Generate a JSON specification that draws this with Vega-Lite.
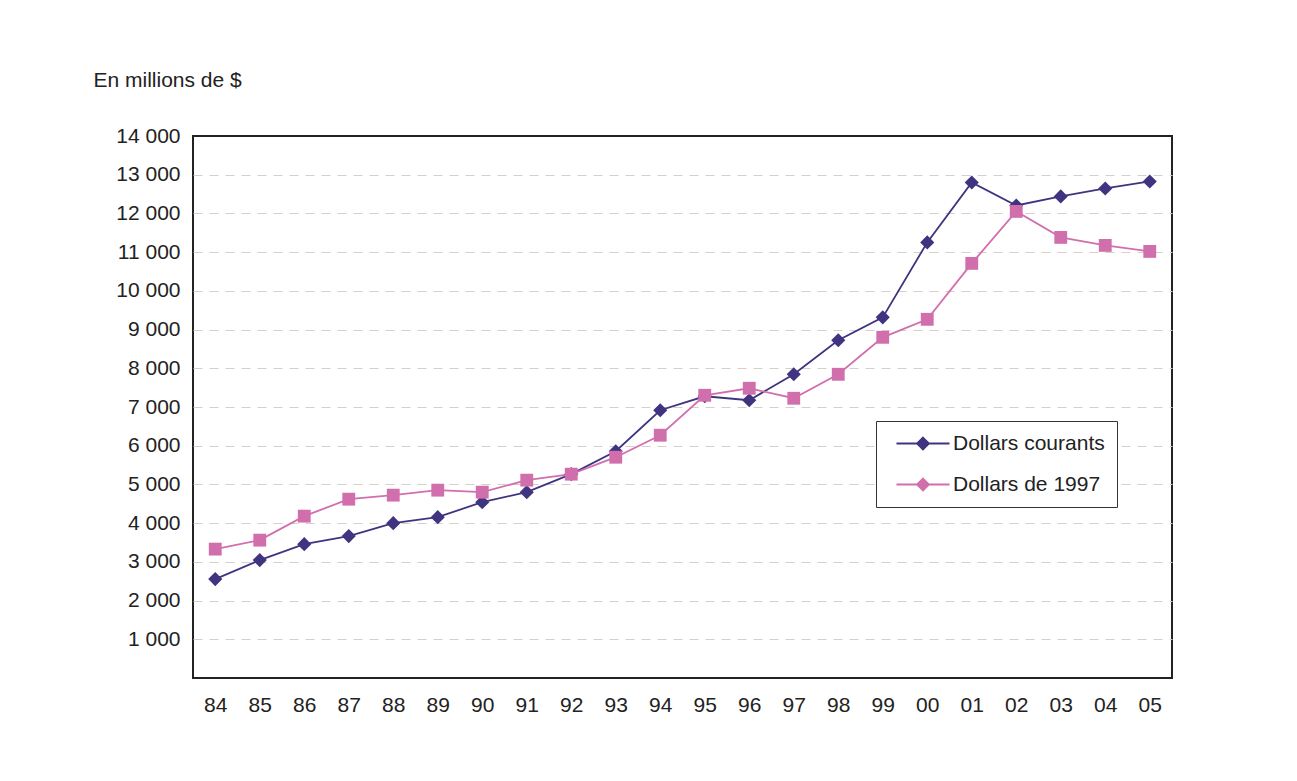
{
  "$schema": "https://vega.github.io/schema/vega-lite/v6.json",
  "width": 979,
  "height": 542,
  "autosize": "none",
  "padding": {"left": 193, "top": 136, "right": 125, "bottom": 103},
  "background": "white",
  "config": {
    "view": {"stroke": "#222222", "strokeWidth": 2},
    "font": "Liberation Sans"
  },
  "data": {
    "values": [
      {"year": 1984, "series": "Dollars courants", "value": 2555},
      {"year": 1985, "series": "Dollars courants", "value": 3045},
      {"year": 1986, "series": "Dollars courants", "value": 3458},
      {"year": 1987, "series": "Dollars courants", "value": 3665},
      {"year": 1988, "series": "Dollars courants", "value": 4000},
      {"year": 1989, "series": "Dollars courants", "value": 4155},
      {"year": 1990, "series": "Dollars courants", "value": 4542},
      {"year": 1991, "series": "Dollars courants", "value": 4800},
      {"year": 1992, "series": "Dollars courants", "value": 5265},
      {"year": 1993, "series": "Dollars courants", "value": 5858},
      {"year": 1994, "series": "Dollars courants", "value": 6916},
      {"year": 1995, "series": "Dollars courants", "value": 7277},
      {"year": 1996, "series": "Dollars courants", "value": 7174},
      {"year": 1997, "series": "Dollars courants", "value": 7845},
      {"year": 1998, "series": "Dollars courants", "value": 8723},
      {"year": 1999, "series": "Dollars courants", "value": 9316},
      {"year": 2000, "series": "Dollars courants", "value": 11252},
      {"year": 2001, "series": "Dollars courants", "value": 12800},
      {"year": 2002, "series": "Dollars courants", "value": 12206},
      {"year": 2003, "series": "Dollars courants", "value": 12439},
      {"year": 2004, "series": "Dollars courants", "value": 12645},
      {"year": 2005, "series": "Dollars courants", "value": 12826},
      {"year": 1984, "series": "Dollars de 1997", "value": 3329},
      {"year": 1985, "series": "Dollars de 1997", "value": 3561},
      {"year": 1986, "series": "Dollars de 1997", "value": 4181},
      {"year": 1987, "series": "Dollars de 1997", "value": 4619},
      {"year": 1988, "series": "Dollars de 1997", "value": 4723},
      {"year": 1989, "series": "Dollars de 1997", "value": 4852},
      {"year": 1990, "series": "Dollars de 1997", "value": 4800},
      {"year": 1991, "series": "Dollars de 1997", "value": 5110},
      {"year": 1992, "series": "Dollars de 1997", "value": 5265},
      {"year": 1993, "series": "Dollars de 1997", "value": 5703},
      {"year": 1994, "series": "Dollars de 1997", "value": 6271},
      {"year": 1995, "series": "Dollars de 1997", "value": 7303},
      {"year": 1996, "series": "Dollars de 1997", "value": 7484},
      {"year": 1997, "series": "Dollars de 1997", "value": 7226},
      {"year": 1998, "series": "Dollars de 1997", "value": 7845},
      {"year": 1999, "series": "Dollars de 1997", "value": 8800},
      {"year": 2000, "series": "Dollars de 1997", "value": 9265},
      {"year": 2001, "series": "Dollars de 1997", "value": 10710},
      {"year": 2002, "series": "Dollars de 1997", "value": 12052},
      {"year": 2003, "series": "Dollars de 1997", "value": 11381},
      {"year": 2004, "series": "Dollars de 1997", "value": 11174},
      {"year": 2005, "series": "Dollars de 1997", "value": 11019}
    ]
  },
  "encoding": {
    "x": {
      "field": "year",
      "type": "ordinal",
      "scale": {"type": "point", "padding": 0.5},
      "axis": {
        "title": null,
        "domain": false,
        "ticks": false,
        "grid": false,
        "labelAngle": 0,
        "labelFontSize": 21,
        "labelColor": "#222222",
        "labelPadding": 16,
        "labelExpr": "substring(datum.label, 2)"
      }
    },
    "y": {
      "field": "value",
      "type": "quantitative",
      "scale": {"domain": [0, 14000], "nice": false},
      "axis": {
        "values": [0, 1000, 2000, 3000, 4000, 5000, 6000, 7000, 8000, 9000, 10000, 11000, 12000, 13000, 14000],
        "domain": false,
        "ticks": false,
        "labelFontSize": 21,
        "labelColor": "#222222",
        "labelPadding": 13,
        "labelExpr": "datum.value == 0 ? '' : replace(format(datum.value, ','), ',', ' ')",
        "grid": true,
        "gridColor": "#d6cfc8",
        "gridDash": [9, 7],
        "gridWidth": 1,
        "gridOpacity": {"condition": {"test": "datum.value == 0 || datum.value == 14000", "value": 0}, "value": 1},
        "title": "En millions de $",
        "titleAngle": 0,
        "titleAlign": "left",
        "titleBaseline": "middle",
        "titleX": -100,
        "titleY": -56,
        "titleFontSize": 21,
        "titleFontWeight": "normal",
        "titleColor": "#222222"
      }
    }
  },
  "layer": [
    {
      "mark": {"type": "line", "strokeWidth": 1.8},
      "encoding": {
        "color": {
          "field": "series",
          "type": "nominal",
          "scale": {"range": ["#3f3480", "#d16fad"]},
          "legend": {
            "title": null,
            "orient": "none",
            "legendX": 683,
            "legendY": 285,
            "padding": 12,
            "strokeColor": "#333333",
            "fillColor": "white",
            "labelFontSize": 21,
            "labelColor": "#222222",
            "labelOffset": 44,
            "symbolType": "M-0.29,0H7.29M3.5,-0.85L4.35,0L3.5,0.85L2.65,0ZM3.5,-0.6L4.1,0L3.5,0.6L2.9,0ZM3.5,-0.35L3.85,0L3.5,0.35L3.15,0ZM3.5,-0.1L3.6,0L3.5,0.1L3.4,0Z",
            "symbolSize": 196,
            "symbolOpacity": 1,
            "symbolStrokeWidth": 1.8,
            "rowPadding": 19
          }
        }
      }
    },
    {
      "mark": {"type": "point", "filled": true, "opacity": 1},
      "encoding": {
        "fill": {
          "field": "series",
          "type": "nominal",
          "scale": {"domain": ["Dollars courants", "Dollars de 1997"], "range": ["#3f3480", "#d16fad"]},
          "legend": null
        },
        "shape": {
          "field": "series",
          "type": "nominal",
          "scale": {"domain": ["Dollars courants", "Dollars de 1997"], "range": ["diamond", "square"]},
          "legend": null
        },
        "size": {
          "field": "series",
          "type": "nominal",
          "scale": {"domain": ["Dollars courants", "Dollars de 1997"], "range": [200, 165]},
          "legend": null
        }
      }
    }
  ]
}
